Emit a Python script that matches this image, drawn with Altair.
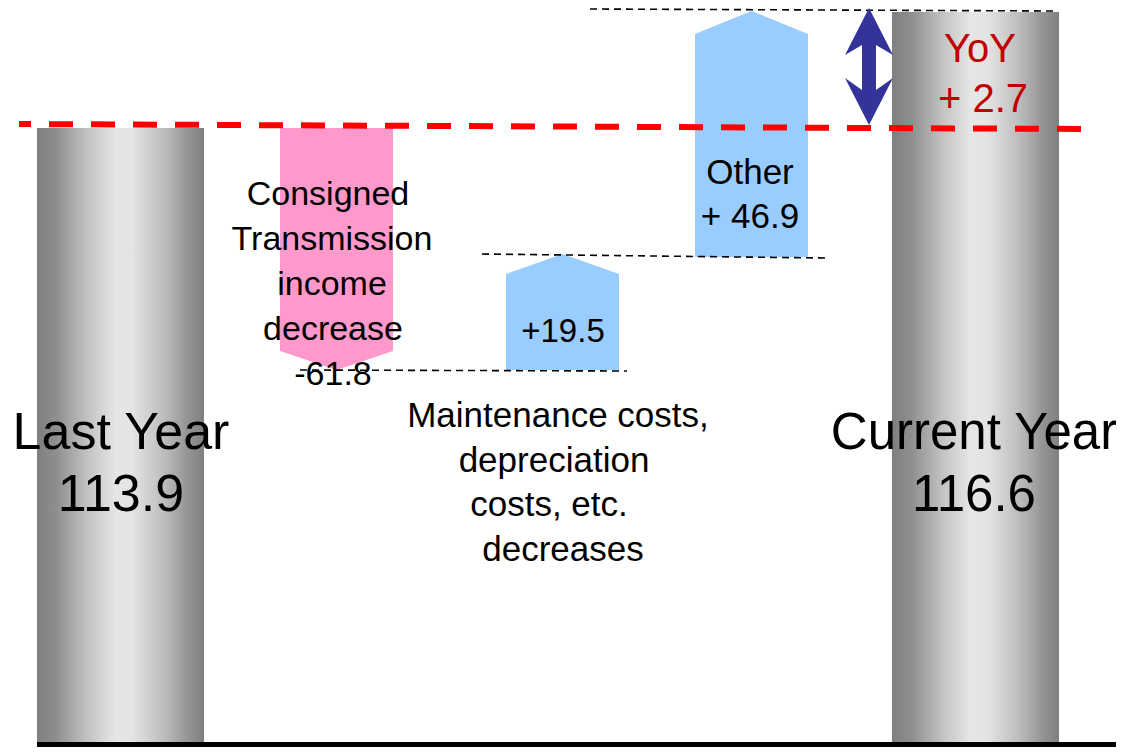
import altair as alt
import pandas as pd

# ---------------- values shown in the chart ----------------
steps = ["Last Year", "Consigned Transmission income decrease",
         "Maintenance costs, depreciation costs, etc. decreases", "Other", "Current Year"]
step_values = [113.9, -61.8, 19.5, 46.9, 116.6]
yoy_value = 2.7

# ---------------- schematic geometry (drawing is not to scale) -------------
slot_left = [37, 280, 506, 695, 892]
slot_right = [204, 393, 619, 808, 1059]
level_start = [0, 622, 380, 493, 0]
level_end = [622, 380, 496, 739, 738]
step_kind = ["total", "down", "up", "up", "total"]
tip_height = [0, 19, 20, 23, 0]

# connector / reference lines (x1, level1, x2, level2)
connector_x1 = [590, 482, 300]
connector_l1 = [741, 496, 380]
connector_x2 = [1058, 825, 627]
connector_l2 = [739, 492, 379]
ref_line = (19, 626, 1085, 621)          # red dashed "last year" level
yoy_arrow_x = 869
yoy_arrow_from, yoy_arrow_to = 625, 742

# ---------------- styles ----------------
FONT = "Liberation Sans"
PINK = "#ff99cc"
BLUE = "#99ccff"
NAVY = "#333399"
RED_TXT = "#c00000"

X = dict(scale=alt.Scale(domain=[8, 1116], nice=False, zero=False), axis=None)
Y = dict(scale=alt.Scale(domain=[3, 742], nice=False, zero=False), axis=None)

grad = alt.LinearGradient(
    gradient="linear", x1=0, x2=1, y1=0, y2=0,
    stops=[alt.GradientStop(color="#7f7f7f", offset=0),
           alt.GradientStop(color="#8f8f8f", offset=0.12),
           alt.GradientStop(color="#c2c2c2", offset=0.3),
           alt.GradientStop(color="#e6e6e6", offset=0.47),
           alt.GradientStop(color="#e4e4e4", offset=0.57),
           alt.GradientStop(color="#bdbdbd", offset=0.76),
           alt.GradientStop(color="#959595", offset=0.9),
           alt.GradientStop(color="#808080", offset=1)])

# totals
tot = pd.DataFrame([dict(x=slot_left[i], x2=slot_right[i], y=level_start[i], y2=level_end[i])
                    for i in range(len(steps)) if step_kind[i] == "total"])
totals = alt.Chart(tot).mark_rect(fill=grad, stroke=None).encode(
    x=alt.X("x:Q", **X), x2="x2:Q", y=alt.Y("y:Q", **Y), y2="y2:Q")

# pentagon arrows for changes
rows = []
for i in range(len(steps)):
    if step_kind[i] == "total":
        continue
    s, e, t = level_start[i], level_end[i], tip_height[i]
    edge = e + t if step_kind[i] == "down" else e - t
    c = (slot_left[i] + slot_right[i]) / 2
    col = PINK if step_kind[i] == "down" else BLUE
    for xx, yy2 in [(slot_left[i], edge), (c, e), (slot_right[i], edge)]:
        rows.append(dict(shape=steps[i], x=xx, y=s, y2=yy2, fill=col))
pent = alt.Chart(pd.DataFrame(rows)).mark_area(orient="vertical", interpolate="linear").encode(
    x=alt.X("x:Q", **X), y=alt.Y("y:Q", **Y), y2="y2:Q",
    detail="shape:N", color=alt.Color("fill:N", scale=None))

# connectors
con = pd.DataFrame(dict(x=connector_x1, y=connector_l1, x2=connector_x2, y2=connector_l2))
connectors = alt.Chart(con).mark_rule(color="black", strokeWidth=1.6, strokeDash=[7, 5]).encode(
    x=alt.X("x:Q", **X), y=alt.Y("y:Q", **Y), x2="x2:Q", y2="y2:Q")

redline = alt.Chart(pd.DataFrame([dict(x=ref_line[0], y=ref_line[1], x2=ref_line[2], y2=ref_line[3])])).mark_rule(
    color="#ff0000", strokeWidth=6, strokeDash=[24, 18], strokeDashOffset=12, strokeCap="butt").encode(
    x=alt.X("x:Q", **X), y=alt.Y("y:Q", **Y), x2="x2:Q", y2="y2:Q")

baseline = alt.Chart(pd.DataFrame([dict(x=slot_left[0], x2=1116, y=5.5)])).mark_rule(
    color="black", strokeWidth=5, strokeCap="butt").encode(
    x=alt.X("x:Q", **X), x2="x2:Q", y=alt.Y("y:Q", **Y))

# YoY double arrow
HW, SW, HL, NOTCH = 24, 7, 47, 37
c, lo, hi = yoy_arrow_x, yoy_arrow_from, yoy_arrow_to
arr = []
for d, outer_top, inner_top, outer_bot, inner_bot in [
        (-HW, hi - HL, hi - HL, lo + HL, lo + HL),
        (-SW, hi - HL * SW / HW, hi - NOTCH, lo + HL * SW / HW, lo + NOTCH - 2),
        (0, hi, hi - NOTCH, lo, lo + NOTCH - 2),
        (SW, hi - HL * SW / HW, hi - NOTCH, lo + HL * SW / HW, lo + NOTCH - 2),
        (HW, hi - HL, hi - HL, lo + HL, lo + HL)]:
    arr.append(dict(part="top", x=c + d, y=outer_top, y2=inner_top))
    arr.append(dict(part="bot", x=c + d, y=outer_bot, y2=inner_bot))
heads = alt.Chart(pd.DataFrame(arr)).mark_area(orient="vertical", color=NAVY).encode(
    x=alt.X("x:Q", **X), y=alt.Y("y:Q", **Y), y2="y2:Q", detail="part:N")
shaft = alt.Chart(pd.DataFrame([dict(x=c - SW, x2=c + SW, y=lo + NOTCH - 3, y2=hi - NOTCH + 1)])).mark_rect(
    color=NAVY).encode(x=alt.X("x:Q", **X), x2="x2:Q", y=alt.Y("y:Q", **Y), y2="y2:Q")

# labels
def fmt(v, space=False):
    if v < 0:
        return f"-{abs(v):.1f}"
    return f"+ {v:.1f}" if space else f"+{v:.1f}"

txt = []
def add(lines, xs, h0, step, size, color="black"):
    if not isinstance(xs, list):
        xs = [xs] * len(lines)
    for k, ln in enumerate(lines):
        txt.append(dict(t=ln, x=xs[k], y=h0 - k * step, size=size, color=color))

add(["Last Year", f"{step_values[0]:.1f}"], 121, 301, 62, 52)
add(["Current Year", f"{step_values[4]:.1f}"], 974, 301, 62, 51)
add(["Consigned", "Transmission", "income", "decrease", fmt(step_values[1])],
    [328, 332, 332, 333, 333], 545, 45, 34)
add([fmt(step_values[2])], 563, 408, 45, 33)
add(["Other", fmt(step_values[3], True)], 750, 566, 44, 35)
add(["YoY", fmt(yoy_value, True)], [980, 983], 688, 50, 40, RED_TXT)
add(["Maintenance costs,", "depreciation", "costs, etc.", "decreases"],
    [558, 554, 549, 563], 323, 44.5, 35)

labels = alt.Chart(pd.DataFrame(txt)).mark_text(font=FONT, align="center", baseline="alphabetic").encode(
    x=alt.X("x:Q", **X), y=alt.Y("y:Q", **Y), text="t:N",
    size=alt.Size("size:Q", scale=None), color=alt.Color("color:N", scale=None))

chart = alt.layer(totals, pent, connectors, redline, heads, shaft, baseline, labels).properties(
    width=1108, height=739, padding=0, autosize=alt.AutoSizeParams(type="none"),
    background="white").configure_view(stroke=None)

chart.save("out.html", embed_options={"renderer": "svg", "actions": False})
